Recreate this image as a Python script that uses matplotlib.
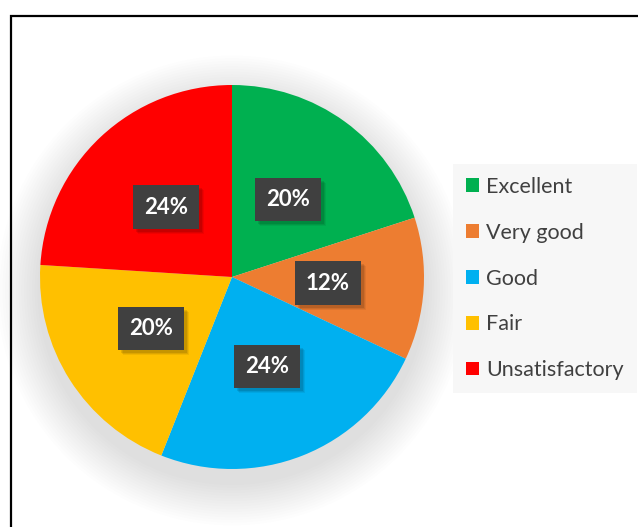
import matplotlib.pyplot as plt
from matplotlib.patches import Circle, Rectangle, Patch
from matplotlib.transforms import IdentityTransform

labels = ["Excellent", "Very good", "Good", "Fair", "Unsatisfactory"]
shares = [20, 12, 24, 20, 24]
colors = ["#00b050", "#ed7d31", "#00b0f0", "#ffc000", "#ff0000"]

plt.rcParams['font.family'] = ['Lato', 'DejaVu Sans']

W, H = 638, 527
fig = plt.figure(figsize=(W / 100, H / 100), dpi=100)
ax = fig.add_axes([0, 0, 1, 1])

# pie geometry in pixels
cx, cy, R = 232, H - 277, 192

# soft glow behind pie
for i in range(16):
    r = 1.0 + 0.014 * (i + 1)
    ax.add_patch(Circle((0, -0.07), r, fc='black', ec='none', alpha=0.007, zorder=0))

wedges, texts, autotexts = ax.pie(shares, colors=colors, startangle=90, counterclock=False,
                                  autopct='%1.0f%%', pctdistance=0.5,
                                  wedgeprops=dict(linewidth=0, zorder=2))

ax.set_xlim(-cx / R, (W - cx) / R)
ax.set_ylim(-cy / R, (H - cy) / R)
ax.set_aspect('auto')
ax.axis('off')

for t in autotexts:
    t.set_fontsize(16)
    t.set_fontweight('bold')
    t.set_color('white')
    t.set_zorder(4)
    t.set_bbox(dict(boxstyle='square,pad=0.5', fc='#404040', ec='none'))

handles = [Patch(fc=c, ec='none') for c in colors]
leg = fig.legend(handles, labels, loc='upper left', bbox_to_anchor=(453 / W, 1 - 164 / H),
                 frameon=True, fancybox=False, facecolor='#f7f7f7', edgecolor='none',
                 fontsize=15.5, labelcolor='#404040', handlelength=0.6, handleheight=0.6,
                 handletextpad=0.35, labelspacing=1.2, borderpad=0.6, borderaxespad=0)
leg.get_frame().set_alpha(1)

# shadows under the label boxes
fig.canvas.draw()
for t in autotexts:
    bb = t.get_bbox_patch().get_window_extent()
    for k, a in enumerate([0.10, 0.08, 0.06]):
        d = k + 1
        ax.add_patch(Rectangle((bb.x0 + 2 + d, bb.y0 - 2 - d), bb.width, bb.height,
                               transform=IdentityTransform(), fc='black', ec='none',
                               alpha=a, zorder=3))

# outer chart border (runs off right and bottom edges)
fig.patches.append(Rectangle((10.5 / W, -0.1), 1.2, 1 - 15.5 / H + 0.1, transform=fig.transFigure,
                             fill=False, ec='black', lw=1.6, zorder=10))

fig.savefig('out.png', dpi=100)
